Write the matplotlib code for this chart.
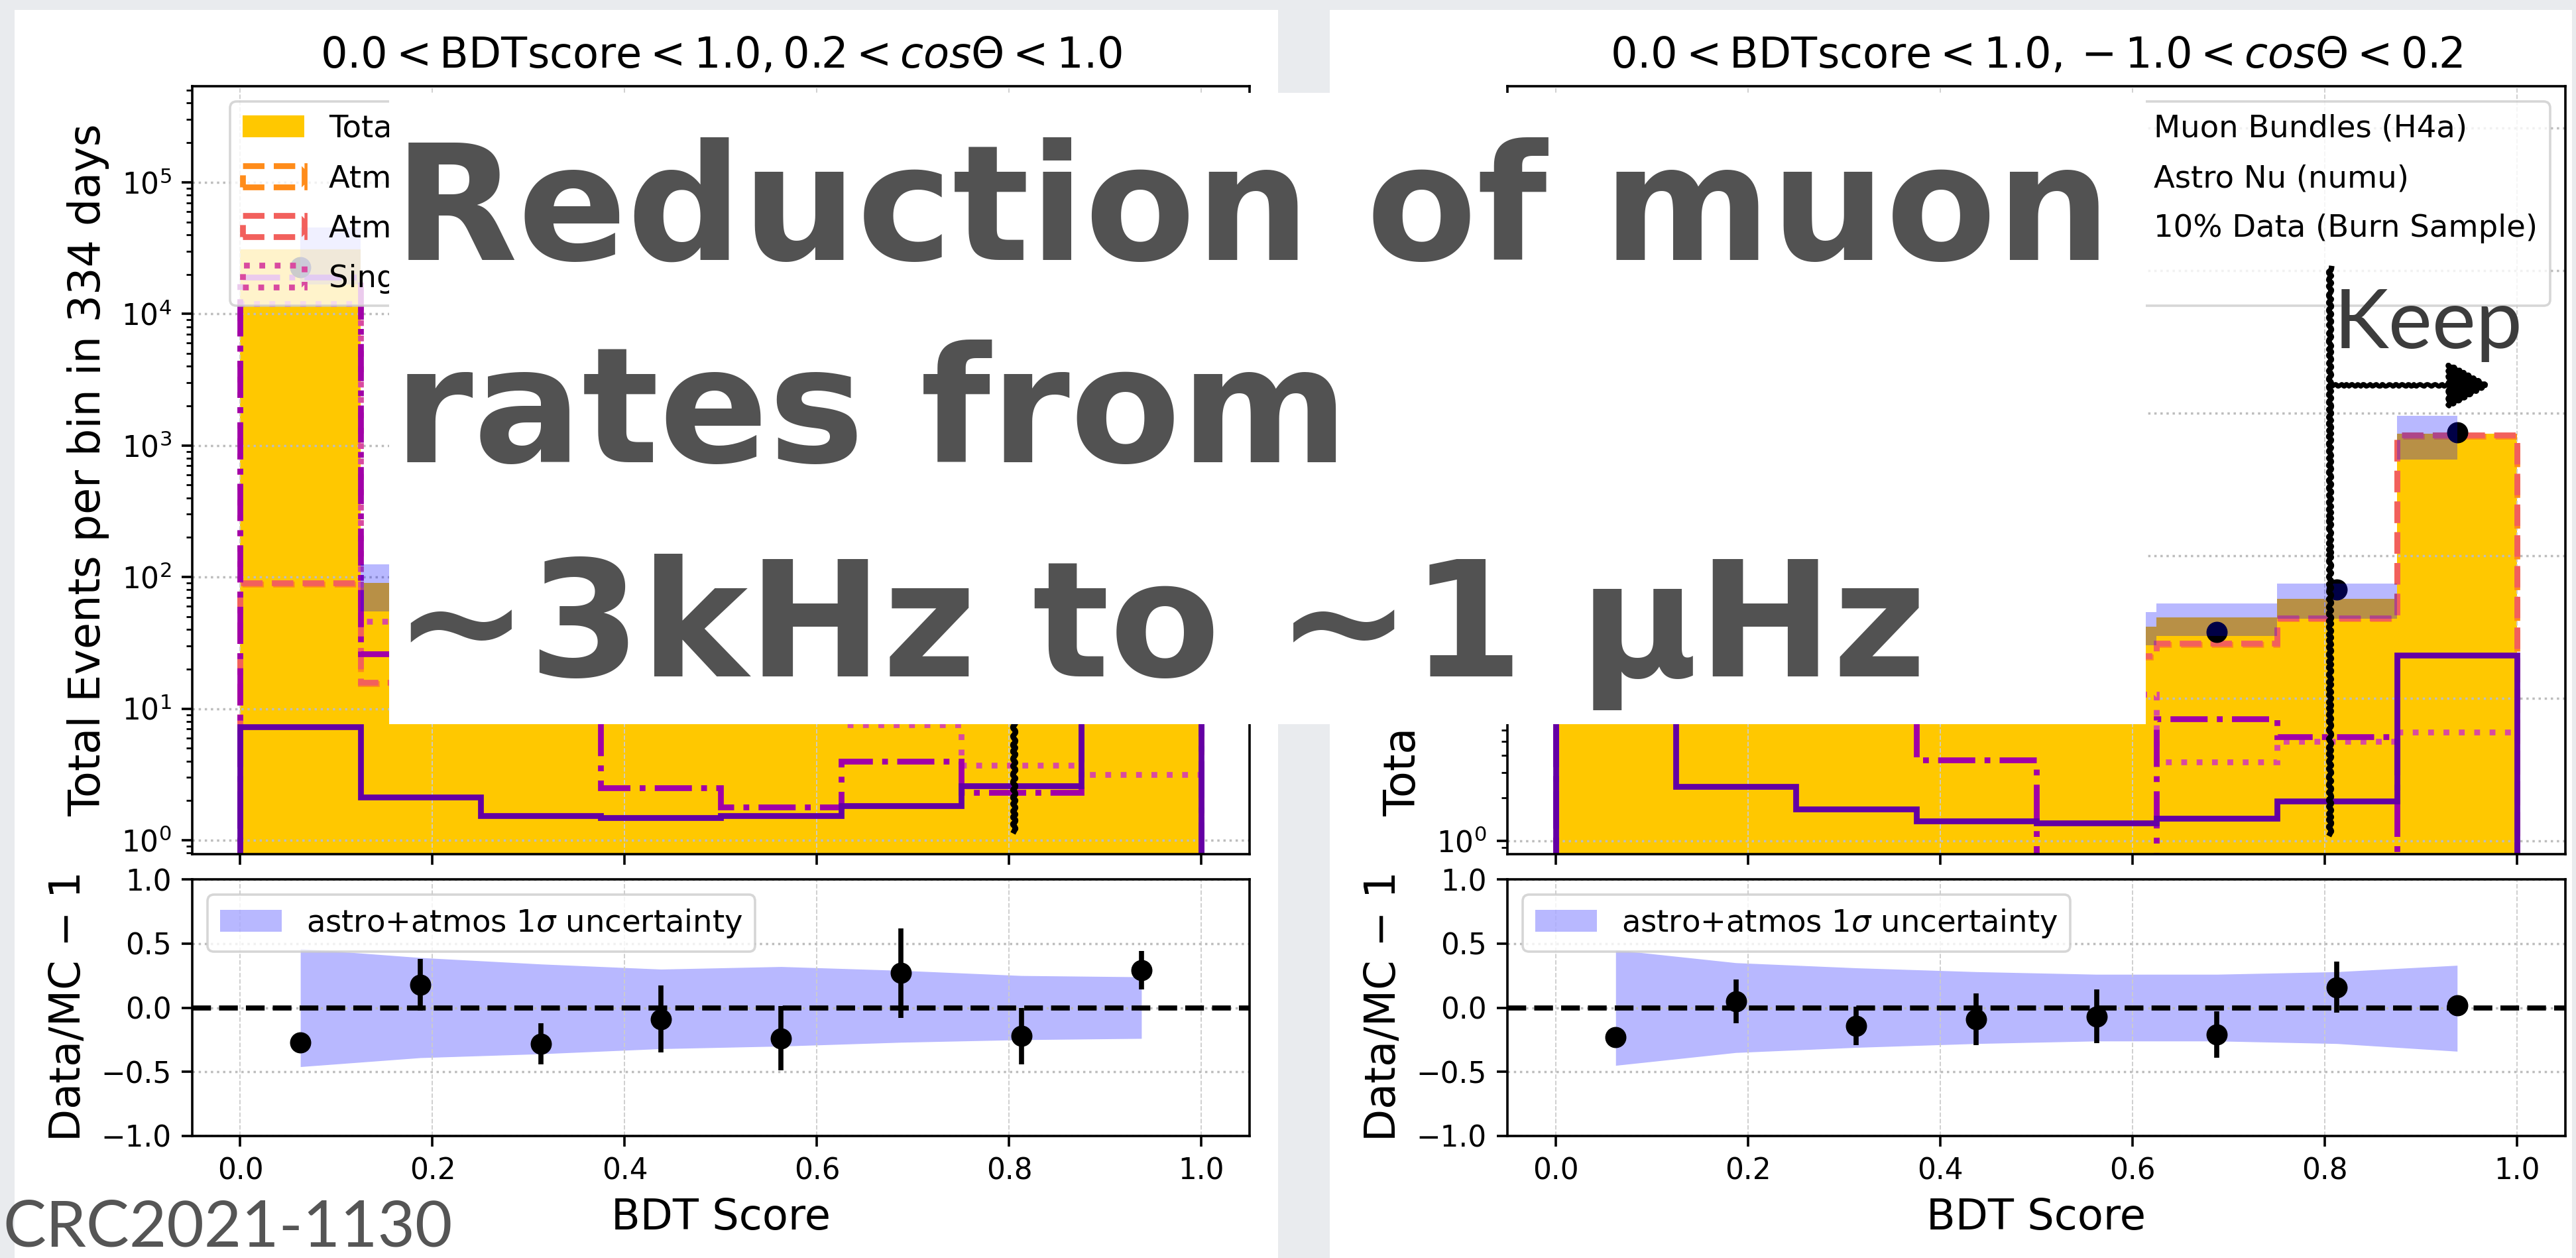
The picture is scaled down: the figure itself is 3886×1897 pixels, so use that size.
import numpy as np
import matplotlib
matplotlib.use("Agg")
import matplotlib.pyplot as plt
from matplotlib.patches import Rectangle
from matplotlib.lines import Line2D
from matplotlib.transforms import blended_transform_factory

# ---------------------------------------------------------------- binning
bin_edges = [0.0, 0.125, 0.25, 0.375, 0.5, 0.625, 0.75, 0.875, 1.0]
bin_centers = [0.0625, 0.1875, 0.3125, 0.4375, 0.5625, 0.6875, 0.8125, 0.9375]
x_ticks = [0.0, 0.2, 0.4, 0.6, 0.8, 1.0]
ratio_ticks = [-1.0, -0.5, 0.0, 0.5, 1.0]

series_labels = [
    "Total MC",
    "Atmos Nu (GaisserH3a)",
    "Atmos Nu (GaisserH4a)",
    "Single Muons (H4a)",
    "Muon Bundles (H4a)",
    "Astro Nu (numu)",
    "10% Data (Burn Sample)",
]

# ------------------------------------------- 0.2 < cos(theta) < 1.0 (down)
down_total = [31000, 90, 48, 34, 28, 29, 29, 71]
down_atm_h3a = [88, 15.5, 19, 17, 14, 15, 19, 43]
down_atm_h4a = [90, 15.8, 20, 18, 15, 16, 20, 45]
down_single = [12000, 46, 15, 12, 10, 7.5, 3.7, 3.15]
down_bundles = [18900, 26, 12, 2.5, 1.78, 4.0, 2.3, 12]
down_astro = [7.3, 2.13, 1.54, 1.48, 1.54, 1.83, 2.59, 11]
down_data = [22600, 106, 34.5, 31, 21.3, 36.8, 22.6, 91.6]
down_data_err = [0.01, 0.20, 0.16, 0.26, 0.25, 0.35, 0.22, 0.15]
down_unc_up = [0.46, 0.39, 0.34, 0.30, 0.32, 0.29, 0.25, 0.24]
down_unc_dn = [0.46, 0.39, 0.36, 0.32, 0.30, 0.27, 0.25, 0.24]

# ------------------------------------------- -1.0 < cos(theta) < 0.2 (up)
up_total = [3700, 57, 44, 32, 31.9, 36.9, 50, 718]
up_atm_h3a = [190, 19, 19, 17, 19.5, 23.8, 36, 690]
up_atm_h4a = [200, 20, 20, 18, 19.9, 24.3, 36.6, 700]
up_single = [1500, 15, 10, 9, 10.7, 3.57, 5.0, 5.8]
up_bundles = [2000, 20, 12, 3.7, 0, 7.2, 5.4, 0]
up_astro = [8, 2.4, 1.67, 1.38, 1.34, 1.44, 1.9, 20]
up_data = [2850, 59.9, 37.8, 29.1, 29.7, 29.2, 58, 732]
up_data_err = [0.01, 0.17, 0.15, 0.20, 0.21, 0.18, 0.20, 0.03]
up_unc_up = [0.45, 0.35, 0.31, 0.28, 0.26, 0.26, 0.28, 0.33]
up_unc_dn = [0.45, 0.35, 0.31, 0.28, 0.26, 0.26, 0.28, 0.34]

keep_cut = 0.805

# ---------------------------------------------------------------- styling
GOLD = "#ffc800"
ORANGE = "#ff8c1a"
RED = "#f2605c"
PINK = "#d94aa0"
MAGENTA = "#a100a8"
PURPLE = "#6400a4"
HIST_LW = 6.3

plt.rcParams.update({
    "font.family": ["DejaVu Sans"],
    "font.size": 31.5,
    "axes.linewidth": 2.6,
    "xtick.major.size": 11.5, "xtick.major.width": 2.6,
    "ytick.major.size": 11.5, "ytick.major.width": 2.6,
    "ytick.minor.size": 6.6, "ytick.minor.width": 2.0,
    "xtick.major.pad": 11, "ytick.major.pad": 11,
    "axes.titlepad": 20,
    "axes.labelpad": 13,
    "legend.fontsize": 33.5,
    "legend.labelspacing": 0.65,
    "legend.framealpha": 0.8,
    "legend.edgecolor": "0.8",
    "patch.linewidth": 2.6,
})

W, H = 3887, 1897
fig = plt.figure(figsize=(W / 100, H / 100), dpi=100, facecolor="#e9ebee")


def frac_rect(x0, y0, x1, y1):
    """Pixel box (top-left origin) -> figure-fraction [l, b, w, h]."""
    return [x0 / W, 1 - y1 / H, (x1 - x0) / W, (y1 - y0) / H]


def white_box(x0, y0, x1, y1, z):
    l, b, w, h = frac_rect(x0, y0, x1, y1)
    fig.add_artist(Rectangle((l, b), w, h, transform=fig.transFigure,
                             facecolor="white", edgecolor="none", zorder=z))


# slide panels holding the two plots
white_box(22, 15, 1928, H, -1)
white_box(2006, 15, 3880, H, -1)


def draw_panel(ax, axr, title, total, h3a, h4a, single, bundles, astro,
               data, data_err, unc_up, unc_dn, ylim):
    total = np.asarray(total, float)
    data = np.asarray(data, float)
    up = np.asarray(unc_up, float)
    dn = np.asarray(unc_dn, float)

    ax.set_yscale("log")
    ax.hist(bin_centers, bins=bin_edges, weights=total, histtype="stepfilled",
            color=GOLD, label=series_labels[0])
    ax.hist(bin_centers, bins=bin_edges, weights=h3a, histtype="step",
            color=ORANGE, ls="--", lw=HIST_LW, label=series_labels[1])
    ax.hist(bin_centers, bins=bin_edges, weights=h4a, histtype="step",
            color=RED, ls="--", lw=HIST_LW, label=series_labels[2])
    ax.hist(bin_centers, bins=bin_edges, weights=single, histtype="step",
            color=PINK, ls=":", lw=HIST_LW, label=series_labels[3])
    ax.hist(bin_centers, bins=bin_edges, weights=bundles, histtype="step",
            color=MAGENTA, ls="-.", lw=HIST_LW, label=series_labels[4])
    ax.hist(bin_centers, bins=bin_edges, weights=astro, histtype="step",
            color=PURPLE, ls="-", lw=HIST_LW, label=series_labels[5])
    ax.plot(bin_centers, data, "o", color="black", ms=22,
            label=series_labels[6], zorder=2)
    ax.fill_between(bin_centers, total * (1 - dn), total * (1 + up),
                    step="mid", color="blue", alpha=0.28, lw=0, zorder=2.5)

    ax.grid(axis="y", which="major", ls=":", color="#bdbdbd", lw=2.5)
    ax.grid(axis="x", ls="--", color="#cccccc", lw=1.3)
    ax.set_title(title, fontsize=46)
    ax.set_ylabel("Total Events per bin in 334 days", fontsize=47)
    ax.tick_params(axis="x", labelbottom=False)
    ax.legend(ncol=2, loc="upper right")

    ratio = data / total - 1
    axr.fill_between(bin_centers, -dn, up, color="blue", alpha=0.28, lw=0,
                     label=r"astro+atmos 1$\sigma$ uncertainty")
    axr.axhline(0, color="black", ls="--", lw=5.5, zorder=2)
    axr.errorbar(bin_centers, ratio, yerr=data_err, fmt="o", color="black",
                 ms=22, elinewidth=5.5, capsize=0, zorder=3)
    axr.grid(axis="y", ls=":", color="#bdbdbd", lw=2.5)
    axr.grid(axis="x", ls="--", color="#cccccc", lw=1.3)
    axr.set_ylim(-1, 1)
    axr.set_yticks(ratio_ticks)
    axr.set_xticks(x_ticks)
    axr.set_xlabel("BDT Score", fontsize=46)
    axr.set_ylabel("Data/MC $-$ 1", fontsize=46)
    axr.legend(loc="upper left", labelspacing=0.5)

    ax.set_xlim(-0.05, 1.05)
    ax.set_ylim(*ylim)


# ------------------------------------------------------------ left panel
axL = fig.add_axes(frac_rect(290, 130, 1885, 1288))
axLr = fig.add_axes(frac_rect(290, 1326, 1885, 1713), sharex=axL)
draw_panel(axL, axLr,
           r"$0.0 < \mathrm{BDTscore} < 1.0, 0.2 < cos\Theta < 1.0$",
           down_total, down_atm_h3a, down_atm_h4a, down_single, down_bundles,
           down_astro, down_data, down_data_err, down_unc_up, down_unc_dn,
           (10 ** -0.106, 10 ** 5.73))

# ----------------------------------------------------------- right panel
axR = fig.add_axes(frac_rect(2274, 130, 3870, 1288))
axRr = fig.add_axes(frac_rect(2274, 1326, 3870, 1713), sharex=axR)
draw_panel(axR, axRr,
           r"$0.0 < \mathrm{BDTscore} < 1.0, -1.0 < cos\Theta < 0.2$",
           up_total, up_atm_h3a, up_atm_h4a, up_single, up_bundles,
           up_astro, up_data, up_data_err, up_unc_up, up_unc_dn,
           (10 ** -0.093, 10 ** 5.293))

# ------------------------------------------------- hand-drawn cut markers
for ax, y_top, y_bot in ((axL, 0.85, 0.03), (axR, 0.7625, 0.027)):
    tr = blended_transform_factory(ax.transData, ax.transAxes)
    cut = Line2D([keep_cut, keep_cut], [y_bot, y_top], transform=tr,
                 color="black", lw=6, clip_on=False, zorder=6)
    cut.set_sketch_params(2.0, 12, 2)
    ax.add_line(cut)

trR = blended_transform_factory(axR.transData, axR.transAxes)
keep_arrow = axR.annotate(
    "", xy=(0.972, 0.6105), xytext=(keep_cut, 0.6105),
    xycoords=trR, textcoords=trR,
    arrowprops=dict(arrowstyle="-|>,head_length=0.4,head_width=0.22",
                    color="black", lw=5, mutation_scale=100,
                    shrinkA=0, shrinkB=0), zorder=6)
keep_arrow.arrow_patch.set_sketch_params(1.5, 10, 2)
axR.text(0.809, 0.659, "Keep", transform=trR, fontsize=90,
         family=["Lato", "DejaVu Sans"], color="#3c3c3c",
         ha="left", va="baseline", zorder=6)
axR.set_xlim(-0.05, 1.05)
axL.set_xlim(-0.05, 1.05)
axL.set_ylim(10 ** -0.106, 10 ** 5.73)
axR.set_ylim(10 ** -0.093, 10 ** 5.293)

# ------------------------------------------------------- headline overlay
white_box(587, 140, 3237, 1092, 4)
headline = ["Reduction of muon", "rates from", "~3kHz to ~1 \u00b5Hz"]
baselines = [392, 697, 1020]
for line, base in zip(headline, baselines):
    fig.text(594 / W, 1 - base / H, line, fontsize=175,
             family=["DejaVu Sans"], fontweight="bold",
             color="#525252", ha="left", va="baseline", zorder=5)

fig.text(4 / W, 1 - 1879 / H, "CRC2021-1130", fontsize=70,
         family=["Lato", "DejaVu Sans"], color="#555555",
         ha="left", va="baseline", zorder=5)

fig.savefig("out.png", dpi=100, facecolor=fig.get_facecolor())
